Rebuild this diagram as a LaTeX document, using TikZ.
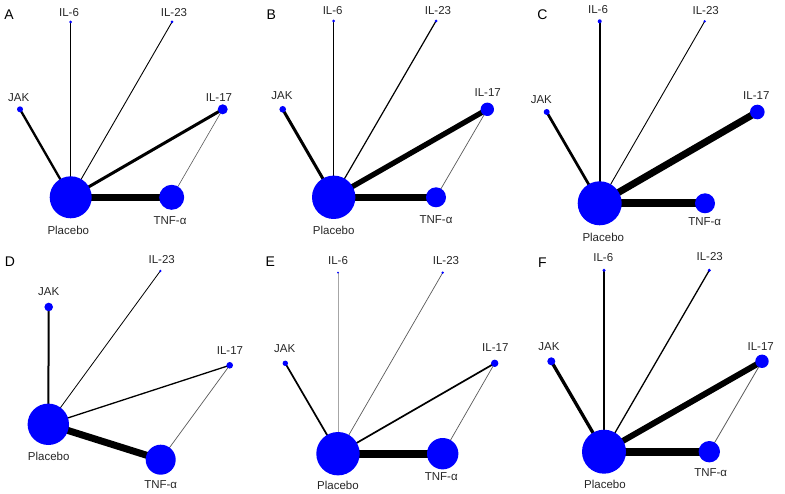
\documentclass[tikz,border=0pt]{standalone}
\usepackage{fontspec}
\setmainfont{Liberation Sans}
\usetikzlibrary{backgrounds}
\begin{document}
\begin{tikzpicture}[x=1pt,y=-1pt,
  trt/.style={circle,fill=blue,inner sep=0pt,draw=none},
  lbl/.style={font=\fontsize{11.5}{12}\selectfont,inner sep=0pt,text=black!85},
  plbl/.style={font=\fontsize{14}{15}\selectfont,inner sep=0pt},
  ed/.style={draw=black,line cap=butt},
  thin ed/.style={draw=black!65,line width=0.6pt}]
\useasboundingbox (0,0) rectangle (785,494);

% ---------------- Panel A ----------------
\node[plbl] (aL) at (9,15) {A};
\node[trt,minimum size=3pt]  (aIL6)  at (70.7,22) {};
\node[trt,minimum size=3pt]  (aIL23) at (172,22) {};
\node[trt,minimum size=6pt]  (aJAK)  at (20,109.3) {};
\node[trt,minimum size=10pt] (aIL17) at (222.7,109.3) {};
\node[trt,minimum size=42pt] (aPl)   at (70.7,197.3) {};
\node[trt,minimum size=25pt] (aTNF)  at (171.7,197.3) {};
\node[lbl] (aIL6t)  at (69,12.7) {IL-6};
\node[lbl] (aIL23t) at (174,12.7) {IL-23};
\node[lbl] (aJAKt)  at (18.7,97.3) {JAK};
\node[lbl] (aIL17t) at (219,97.3) {IL-17};
\node[lbl] (aPlt)   at (68.3,230.7) {Placebo};
\node[lbl] (aTNFt)  at (170,220.7) {TNF-α};
\begin{scope}[on background layer]
\draw[ed,line width=7.3pt] (aPl.center) -- (aTNF.center);
\draw[ed,line width=3pt]   (aPl.center) -- (aIL17.center);
\draw[ed,line width=2.3pt] (aPl.center) -- (aJAK.center);
\draw[ed,line width=0.8pt] (aPl.center) -- (aIL6.center);
\draw[ed,line width=0.9pt] (aPl.center) -- (aIL23.center);
\draw[thin ed] (aIL17.center) -- (aTNF.center);
\end{scope}

% ---------------- Panel B ----------------
\node[plbl] (bL) at (271.3,15) {B};
\node[trt,minimum size=3pt]  (bIL6)  at (333.7,21) {};
\node[trt,minimum size=3pt]  (bIL23) at (436,21) {};
\node[trt,minimum size=6.6pt] (bJAK) at (282.7,109.3) {};
\node[trt,minimum size=13.4pt] (bIL17) at (487.3,109.3) {};
\node[trt,minimum size=43.4pt] (bPl) at (333.7,197.3) {};
\node[trt,minimum size=20pt] (bTNF)  at (436,197.3) {};
\node[lbl] (bIL6t)  at (332.7,10.7) {IL-6};
\node[lbl] (bIL23t) at (438,10.7) {IL-23};
\node[lbl] (bJAKt)  at (282,96) {JAK};
\node[lbl] (bIL17t) at (487.7,92.7) {IL-17};
\node[lbl] (bPlt)   at (333.7,230.7) {Placebo};
\node[lbl] (bTNFt)  at (436,219.3) {TNF-α};
\begin{scope}[on background layer]
\draw[ed,line width=7.3pt] (bPl.center) -- (bTNF.center);
\draw[ed,line width=5.3pt] (bPl.center) -- (bIL17.center);
\draw[ed,line width=3pt]   (bPl.center) -- (bJAK.center);
\draw[ed,line width=1.2pt] (bPl.center) -- (bIL6.center);
\draw[ed,line width=1.2pt] (bPl.center) -- (bIL23.center);
\draw[thin ed,line width=0.7pt] (bIL17.center) -- (bTNF.center);
\end{scope}

% ---------------- Panel C ----------------
\node[plbl] (cL) at (542.3,15) {C};
\node[trt,minimum size=4pt]  (cIL6)  at (599.7,21.3) {};
\node[trt,minimum size=2.6pt] (cIL23) at (704.7,21.3) {};
\node[trt,minimum size=6pt]  (cJAK)  at (546.7,112) {};
\node[trt,minimum size=14.6pt] (cIL17) at (757.3,112) {};
\node[trt,minimum size=44pt] (cPl)   at (599.7,203.3) {};
\node[trt,minimum size=20pt] (cTNF)  at (705,203.3) {};
\node[lbl] (cIL6t)  at (598,10) {IL-6};
\node[lbl] (cIL23t) at (705.7,10.7) {IL-23};
\node[lbl] (cJAKt)  at (541.3,99.3) {JAK};
\node[lbl] (cIL17t) at (756.3,96) {IL-17};
\node[lbl] (cPlt)   at (603.3,237.3) {Placebo};
\node[lbl] (cTNFt)  at (704.7,221.7) {TNF-α};
\begin{scope}[on background layer]
\draw[ed,line width=7.8pt] (cPl.center) -- (cTNF.center);
\draw[ed,line width=7pt]   (cPl.center) -- (cIL17.center);
\draw[ed,line width=2.7pt] (cPl.center) -- (cJAK.center);
\draw[ed,line width=2pt]   (cPl.center) -- (cIL6.center);
\draw[ed,line width=0.9pt] (cPl.center) -- (cIL23.center);
\end{scope}

% ---------------- Panel D ----------------
\node[plbl] (dL) at (10,262) {D};
\node[trt,minimum size=2.6pt] (dIL23) at (160.3,271) {};
\node[trt,minimum size=8.6pt] (dJAK)  at (48.7,307) {};
\node[trt,minimum size=6.6pt] (dIL17) at (229.7,365.3) {};
\node[trt,minimum size=41.4pt] (dPl)  at (48.3,424.3) {};
\node[trt,minimum size=30pt]  (dTNF)  at (160.7,459.7) {};
\node[lbl] (dIL23t) at (161.7,259.7) {IL-23};
\node[lbl] (dJAKt)  at (48.7,291.3) {JAK};
\node[lbl] (dIL17t) at (230,350.3) {IL-17};
\node[lbl] (dPlt)   at (48.7,456.3) {Placebo};
\node[lbl] (dTNFt)  at (160.7,484.3) {TNF-α};
\begin{scope}[on background layer]
\draw[ed,line width=7pt]   (dPl.center) -- (dTNF.center);
\draw[ed,line width=2pt]   (dPl.center) -- (dJAK.center);
\draw[ed,line width=1.3pt] (dPl.center) -- (dIL17.center);
\draw[ed,line width=0.8pt] (dPl.center) -- (dIL23.center);
\draw[thin ed,line width=0.7pt] (dIL17.center) -- (dTNF.center);
\end{scope}

% ---------------- Panel E ----------------
\node[plbl] (eL) at (270.3,262) {E};
\node[trt,minimum size=2pt]   (eIL6)  at (338,272.7) {};
\node[trt,minimum size=2.6pt] (eIL23) at (442.7,272.7) {};
\node[trt,minimum size=5.4pt] (eJAK)  at (285.3,363.3) {};
\node[trt,minimum size=7.4pt] (eIL17) at (494.7,363.3) {};
\node[trt,minimum size=43.4pt] (ePl)  at (338,453.7) {};
\node[trt,minimum size=31.4pt] (eTNF) at (442.7,453.7) {};
\node[lbl] (eIL6t)  at (338,260.3) {IL-6};
\node[lbl] (eIL23t) at (446,261) {IL-23};
\node[lbl] (eJAKt)  at (284.7,348.7) {JAK};
\node[lbl] (eIL17t) at (495.3,347.7) {IL-17};
\node[lbl] (ePlt)   at (338,485.3) {Placebo};
\node[lbl] (eTNFt)  at (441.3,476.3) {TNF-α};
\begin{scope}[on background layer]
\draw[ed,line width=8pt]   (ePl.center) -- (eTNF.center);
\draw[ed,line width=1.7pt] (ePl.center) -- (eIL17.center);
\draw[ed,line width=1.7pt] (ePl.center) -- (eJAK.center);
\draw[draw=black!35,line width=1pt] (ePl.center) -- (eIL6.center);
\draw[thin ed,line width=0.7pt] (ePl.center) -- (eIL23.center);
\draw[thin ed,line width=0.7pt] (eIL17.center) -- (eTNF.center);
\end{scope}

% ---------------- Panel F ----------------
\node[plbl] (fL) at (542.3,263) {F};
\node[trt,minimum size=3.4pt] (fIL6)  at (604,270.3) {};
\node[trt,minimum size=3.4pt] (fIL23) at (709.3,270.3) {};
\node[trt,minimum size=8pt]   (fJAK)  at (551.3,361.3) {};
\node[trt,minimum size=13.4pt] (fIL17) at (762,361.3) {};
\node[trt,minimum size=44pt]  (fPl)   at (604,451.7) {};
\node[trt,minimum size=21.4pt] (fTNF) at (709.3,451.7) {};
\node[lbl] (fIL6t)  at (603.3,257.7) {IL-6};
\node[lbl] (fIL23t) at (709.7,257) {IL-23};
\node[lbl] (fJAKt)  at (549,347) {JAK};
\node[lbl] (fIL17t) at (760.7,346.3) {IL-17};
\node[lbl] (fPlt)   at (605,484.3) {Placebo};
\node[lbl] (fTNFt)  at (710.7,472.7) {TNF-α};
\begin{scope}[on background layer]
\draw[ed,line width=8pt]   (fPl.center) -- (fTNF.center);
\draw[ed,line width=6pt]   (fPl.center) -- (fIL17.center);
\draw[ed,line width=3.3pt] (fPl.center) -- (fJAK.center);
\draw[ed,line width=1.3pt] (fPl.center) -- (fIL6.center);
\draw[ed,line width=1.3pt] (fPl.center) -- (fIL23.center);
\draw[thin ed,line width=0.8pt] (fIL17.center) -- (fTNF.center);
\end{scope}
\end{tikzpicture}
\end{document}
